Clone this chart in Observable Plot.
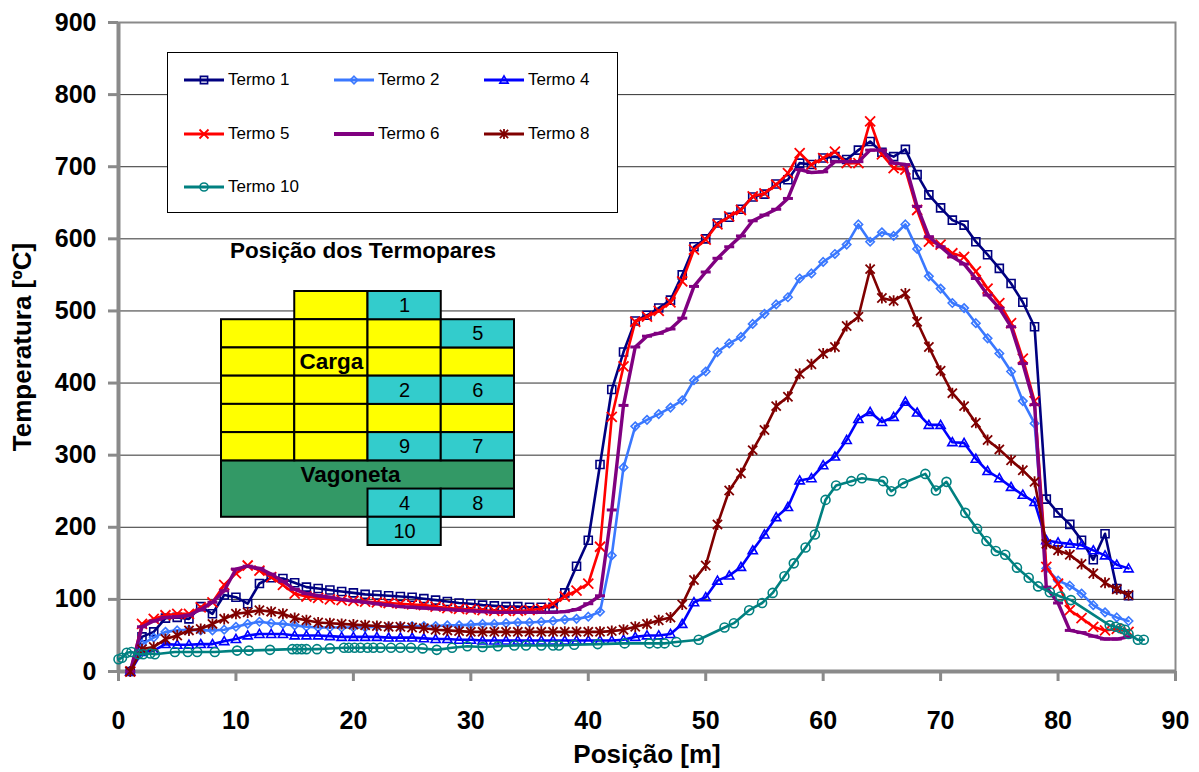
<!DOCTYPE html>
<html>
<head>
<meta charset="utf-8">
<script src="https://cdn.jsdelivr.net/npm/d3@7"></script>
<script src="https://cdn.jsdelivr.net/npm/@observablehq/plot@0.6"></script>
<style>
  body { margin: 0; background: #fff; }
  #grafico { position: relative; width: 1199px; height: 772px; font-family: "Liberation Sans", Arial, sans-serif; }
  #grafico > svg.principal { position: absolute; left: 0; top: 0; }
  #grafico > svg.esquema { position: absolute; left: 218px; top: 230px; }
  #legenda { position: absolute; left: 167px; top: 52px; width: 449px; height: 159px; border: 1px solid #000; background: #fff; }
  #legenda .item { position: absolute; height: 20px; display: flex; align-items: center; font-size: 17px; color: #000; white-space: nowrap; }
  #legenda .item span { margin-left: 4px; }
</style>
</head>
<body>
<div id="grafico"></div>
<script>
// Posições ao longo do forno [m]
const posicao = [1,2,3,4,5,6,7,8,9,10,11,12,13,14,15,16,17,18,19,20,21,22,23,24,25,26,27,28,29,30,
  31,32,33,34,35,36,37,38,39,40,41,42,43,44,45,46,47,48,49,50,51,52,53,54,55,56,57,58,59,60,
  61,62,63,64,65,66,67,68,69,70,71,72,73,74,75,76,77,78,79,80,81,82,83,84,85,86];

// Temperaturas medidas [ºC]
const termo1 = [0,48,55,74,75,73,90,80,106,103, 94,122,130,129,123,117,115,113,111,109,
  107,106,105,104,103,101,99,97,95,94, 92,91,90,90,89,89,89,109,146,182,
  287,391,443,486,494,504,515,550,589,600, 622,630,641,658,662,676,682,705,703,712,
  714,710,723,735,720,714,724,689,661,643, 626,619,596,578,559,538,512,478,239,220,
  204,182,155,191,115,105];
const termo2 = [0,38,47,55,57,58,57,57,58,62, 66,69,67,66,64,62,61,61,61,61,
  61,62,62,62,63,63,63,64,64,65, 66,66,67,68,68,69,70,72,73,76,
  83,161,283,340,349,357,366,376,404,416, 443,455,464,482,496,509,519,545,552,568,
  579,592,620,596,609,604,620,586,548,531, 511,504,483,462,441,416,375,344,143,126,
  119,108,92,82,75,70];
const termo4 = [0,27,29,38,37,37,38,38,42,45, 50,52,52,52,50,50,50,49,48,48,
  48,48,47,47,47,46,45,45,44,44, 43,43,43,43,43,43,43,43,43,43,
  43,43,44,48,50,50,52,66,96,103, 126,133,145,168,190,214,228,265,268,286,
  298,321,350,360,346,353,374,359,342,342, 318,317,295,278,268,256,245,235,182,179,
  177,175,168,161,148,143];
const termo5 = [0,66,73,78,80,80,89,96,120,136, 147,140,131,120,108,104,102,100,99,98,
  97,96,95,94,93,92,90,88,87,86, 85,84,84,84,85,87,94,104,112,122,
  173,353,423,485,492,500,512,541,585,599, 620,631,640,659,663,675,691,719,703,712,
  721,705,705,763,717,698,696,640,596,592, 580,575,555,531,511,483,434,375,145,122,
  85,74,62,57,59,55];
const termo6 = [0,62,70,75,76,78,86,96,112,142, 146,143,135,125,114,108,105,103,100,98,
  96,94,92,90,89,88,87,86,85,84, 83,82,82,82,82,82,82,83,86,94,
  105,224,369,450,465,469,475,490,534,554, 573,589,604,625,633,641,656,696,692,693,
  707,707,707,723,723,705,703,645,603,589, 575,565,545,522,504,478,427,370,117,95,
  57,54,49,45,45,48];
const termo8 = [0,31,34,45,50,57,59,66,73,80, 82,85,83,80,74,71,68,67,66,65,
  64,63,62,62,61,60,58,57,56,55, 55,55,55,55,55,55,55,55,55,55,
  55,56,58,62,66,71,75,93,127,147, 204,251,275,307,335,368,381,413,426,441,
  450,479,492,558,518,514,524,485,450,417, 386,368,345,321,308,293,279,263,177,168,
  162,149,136,123,114,106];

// O termopar 10 foi registado em posições próprias
const posicaoTermo10 = [0,0.3,0.7,1.1,1.7,2.1,2.7,3.1,4.8,5.9, 6.7,8.2,10.1,11.1,12.9,14.8,15.2,15.6,16,16.9,
  18,19.2,19.6,20.1,20.6,21.2,21.7,22.3,23.2,24, 24.9,25.9,27.1,28.4,29.7,31,32.3,33.7,34.7,36,
  37,37.5,38.8,40.8,43.1,45.2,45.9,46.5,47.5,49.4, 51.6,52.4,53.7,54.8,55.7,56.7,57.5,58.5,59.3,60.2,
  61.1,62.4,63.3,65.1,65.8,66.8,68.7,69.6,70.5,72.1, 73.1,73.9,74.7,75.5,76.5,77.5,78.3,79.3,80.2,81.1,
  84.4,84.9,85.3,85.7,86,86.8,87.3];
const termo10 = [17,19,26,27,24,24,25,24,27,27, 27,27,29,29,30,31,31,31,31,31,
  32,33,33,33,33,33,33,33,33,33, 33,32,30,33,35,34,35,36,36,36,
  36,36,37,38,39,39,39,39,41,44, 61,67,85,95,109,132,150,172,190,238,
  258,264,268,264,250,261,274,251,263,220, 198,181,167,162,144,130,118,110,104,99,
  64,62,60,58,52,44,44];

// Marcas dos eixos
const ticksX = [0,10,20,30,40,50,60,70,80,90];
const ticksY = [0,100,200,300,400,500,600,700,800,900];

// Esquema da posição dos termopares na carga (colunas e linhas da pilha)
const blocosCarga = [
  {col:1, lin:0},
  {col:0, lin:1}, {col:1, lin:1}, {col:2, lin:1},
  {col:0, lin:2}, {col:1, lin:2}, {col:2, lin:2}, {col:3, lin:2},
  {col:0, lin:3}, {col:1, lin:3},
  {col:0, lin:4}, {col:1, lin:4}, {col:2, lin:4}, {col:3, lin:4},
  {col:0, lin:5}, {col:1, lin:5}
];
const termopares = [
  {num:"1", col:2, lin:0}, {num:"5", col:3, lin:1},
  {num:"2", col:2, lin:3}, {num:"6", col:3, lin:3},
  {num:"9", col:2, lin:5}, {num:"7", col:3, lin:5},
  {num:"4", col:2, lin:7}, {num:"8", col:3, lin:7},
  {num:"10", col:2, lin:8}
];
const vagoneta = [{col:0, lin:6, larg:4, alt:2}];
const zonas = [{nome:"Carga", col:1.5, lin:2.5}, {nome:"Vagoneta", col:1.76, lin:6.5}];

// Símbolos dos marcadores (r = meia largura)
const raio = size => Math.sqrt(size / Math.PI);
const quadrado = {draw(c, s) { const r = raio(s); c.moveTo(-r,-r); c.lineTo(r,-r); c.lineTo(r,r); c.lineTo(-r,r); c.closePath(); }};
const losango = {draw(c, s) { const r = raio(s); c.moveTo(0,-r); c.lineTo(r,0); c.lineTo(0,r); c.lineTo(-r,0); c.closePath(); }};
const triangulo = {draw(c, s) { const r = raio(s); c.moveTo(0,-r); c.lineTo(r,r*0.75); c.lineTo(-r,r*0.75); c.closePath(); }};
const xis = {draw(c, s) { const r = raio(s); c.moveTo(-r,-r); c.lineTo(r,r); c.moveTo(r,-r); c.lineTo(-r,r); }};
const traco = {draw(c, s) { const r = raio(s); c.moveTo(-r,0); c.lineTo(r,0); }};
const asterisco = {draw(c, s) { const r = raio(s); c.moveTo(-r,-r); c.lineTo(r,r); c.moveTo(r,-r); c.lineTo(-r,r); c.moveTo(0,-r*1.2); c.lineTo(0,r*1.2); }};
const circulo = {draw(c, s) { const r = raio(s); c.moveTo(r,0); c.arc(0,0,r,0,2*Math.PI); }};

const series = [
  {nome:"Termo 1", x:posicao, y:termo1},
  {nome:"Termo 2", x:posicao, y:termo2},
  {nome:"Termo 4", x:posicao, y:termo4},
  {nome:"Termo 5", x:posicao, y:termo5},
  {nome:"Termo 6", x:posicao, y:termo6},
  {nome:"Termo 8", x:posicao, y:termo8},
  {nome:"Termo 10", x:posicaoTermo10, y:termo10}
];

const estilo = {
  "Termo 1":  {cor:"#000080", simbolo:quadrado,  r:4,   linha:2.6, marca:1.6},
  "Termo 2":  {cor:"#3a78ff", simbolo:losango,   r:4.2, linha:2.6, marca:1.6},
  "Termo 4":  {cor:"#0000ff", simbolo:triangulo, r:4.6, linha:2.6, marca:1.6},
  "Termo 5":  {cor:"#ff0000", simbolo:xis,       r:5,   linha:2.6, marca:1.8},
  "Termo 6":  {cor:"#800080", simbolo:traco,     r:5,   linha:3.4, marca:3},
  "Termo 8":  {cor:"#800000", simbolo:asterisco, r:4.6, linha:2.6, marca:1.8},
  "Termo 10": {cor:"#008080", simbolo:circulo,   r:4.5, linha:2.6, marca:1.6}
};

const fonte = '"Liberation Sans", Arial, sans-serif';
const pontos = s => s.y.map((v, i) => ({x: s.x[i], y: v}));

const marcasSeries = series.flatMap(s => {
  const e = estilo[s.nome];
  const d = pontos(s);
  return [
    Plot.line(d, {x:"x", y:"y", stroke:e.cor, strokeWidth:e.linha, strokeLinejoin:"round"}),
    Plot.dot(d, {x:"x", y:"y", symbol:e.simbolo, r:e.r, stroke:e.cor, strokeWidth:e.marca, fill:"none"})
  ];
});

const grafico = Plot.plot({
  width: 1199,
  height: 772,
  marginLeft: 118,
  marginRight: 24,
  marginTop: 22,
  marginBottom: 101,
  x: {domain: [0, 90]},
  y: {domain: [0, 900]},
  style: {fontFamily: fonte, background: "#fff", color: "#000"},
  marks: [
    Plot.gridY(ticksY, {stroke: "#1a1a1a", strokeOpacity: 0.9, strokeWidth: 1}),
    Plot.frame({stroke: "#8a8a8a", strokeWidth: 2}),
    Plot.ruleX([0], {stroke: "#8a8a8a", strokeWidth: 4}),
    Plot.ruleY([0], {stroke: "#8a8a8a", strokeWidth: 4}),
    Plot.axisY(ticksY, {label: null, tickSize: 10, tickPadding: 12, stroke: "#8a8a8a", strokeWidth: 3,
      fill: "#000", fontSize: 25, fontWeight: "bold", tickFormat: d => String(d)}),
    Plot.axisX(ticksX, {label: null, tickSize: 10, tickPadding: 30, stroke: "#8a8a8a", strokeWidth: 3,
      fill: "#000", fontSize: 25, fontWeight: "bold", tickFormat: d => String(d)}),
    ...marcasSeries,
    Plot.text(["Temperatura [ºC]"], {text: d => d, frameAnchor: "left", dx: -96, rotate: -90,
      textAnchor: "middle", lineAnchor: "middle", fontSize: 26, fontWeight: "bold", fill: "#000"}),
    Plot.text(["Posição [m]"], {text: d => d, frameAnchor: "bottom", dx: 0, dy: 91,
      lineAnchor: "bottom", fontSize: 26, fontWeight: "bold", fill: "#000"})
  ]
});
grafico.classList.add("principal");

const raiz = document.getElementById("grafico");
raiz.appendChild(grafico);

// Legenda
function caminho(simbolo, r) {
  const p = d3.path();
  simbolo.draw(p, r * r * Math.PI);
  return p.toString();
}
const legenda = document.createElement("div");
legenda.id = "legenda";
const colunasLegenda = [16, 166, 316];
const linhasLegenda = [27, 81, 134];
series.forEach((s, i) => {
  const e = estilo[s.nome];
  const item = document.createElement("div");
  item.className = "item";
  item.style.left = colunasLegenda[i % 3] + "px";
  item.style.top = (linhasLegenda[Math.floor(i / 3)] - 10) + "px";
  item.innerHTML =
    `<svg width="40" height="20"><line x1="0" x2="40" y1="10" y2="10" stroke="${e.cor}" stroke-width="${e.linha + 0.6}"/>` +
    `<path transform="translate(20,10)" d="${caminho(e.simbolo, e.r * 0.9)}" fill="none" stroke="${e.cor}" stroke-width="${e.marca}"/></svg>` +
    `<span>${s.nome}</span>`;
  legenda.appendChild(item);
});
raiz.appendChild(legenda);

// Esquema da carga na vagoneta
const celula = {
  x1: "col", x2: d => d.col + (d.larg ?? 1),
  y1: "lin", y2: d => d.lin + (d.alt ?? 1),
  stroke: "#000", strokeWidth: 2
};
const esquema = Plot.plot({
  width: 300,
  height: 320,
  marginLeft: 3,
  marginRight: 4,
  marginTop: 61,
  marginBottom: 5,
  x: {domain: [0, 4], axis: null},
  y: {domain: [0, 9], reverse: true, axis: null},
  color: {domain: ["carga", "termopar", "vagoneta"], range: ["#ffff00", "#33cccc", "#339966"]},
  style: {fontFamily: fonte, background: "transparent", overflow: "visible"},
  marks: [
    Plot.rect(vagoneta, {...celula, fill: () => "vagoneta"}),
    Plot.rect(blocosCarga, {...celula, fill: () => "carga"}),
    Plot.rect(termopares, {...celula, fill: () => "termopar"}),
    Plot.text(termopares, {x: d => d.col + 0.5, y: d => d.lin + 0.5, text: "num",
      fontSize: 20, fill: "#000", lineAnchor: "middle"}),
    Plot.text(zonas, {x: "col", y: "lin", text: "nome", fontSize: 22.5, fontWeight: "bold",
      fill: "#000", lineAnchor: "middle"}),
    Plot.text(["Posição dos Termopares"], {text: d => d, frameAnchor: "top", dx: -5, dy: -34,
      lineAnchor: "bottom", fontSize: 22.5, fontWeight: "bold", fill: "#000"})
  ]
});
esquema.classList.add("esquema");
raiz.appendChild(esquema);
</script>
</body>
</html>
